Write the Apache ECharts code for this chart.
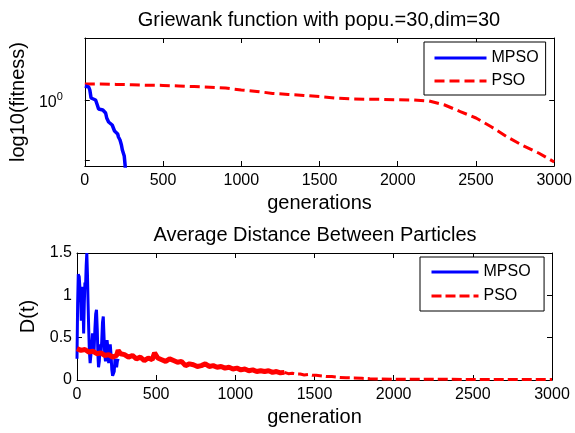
<!DOCTYPE html>
<html>
<head>
<meta charset="utf-8">
<script src="https://cdn.jsdelivr.net/npm/echarts@6/dist/echarts.min.js"></script>
<style>
html,body{margin:0;padding:0;background:#fff;}
#chart{width:575px;height:433px;}
</style>
</head>
<body>
<div id="chart"></div>
<script>
// ---- Top panel: log10(fitness) vs generations ----
const topTitle = 'Griewank function with popu.=30,dim=30';
const topMpsoGen = [0,6,25,32,40,44,69,76,82,88,115,125,133,140,152,175,183,190,196,210,215,225,234,240,246,252,258,262];
const topMpsoVal = [0.070,0.070,0.065,0.050,0.010,0.000,0.000,-0.010,-0.030,-0.045,-0.050,-0.055,-0.065,-0.090,-0.110,-0.125,-0.130,-0.155,-0.160,-0.170,-0.185,-0.200,-0.225,-0.250,-0.265,-0.280,-0.330,-0.400];
const topPsoGen = [0,100,200,300,400,500,600,700,800,900,1000,1100,1200,1300,1400,1500,1600,1700,1800,1900,2000,2100,2200,2300,2400,2500,2600,2700,2800,2900,3000];
const topPsoVal = [0.080,0.080,0.078,0.076,0.074,0.073,0.070,0.067,0.064,0.060,0.050,0.043,0.033,0.028,0.023,0.017,0.010,0.006,0.004,0.003,0.001,0.000,-0.005,-0.025,-0.058,-0.090,-0.135,-0.185,-0.228,-0.265,-0.310];

// ---- Bottom panel: D(t) vs generation ----
const botTitle = 'Average Distance Between Particles';
const botMpsoGen = [0,4,8,14,19,23,27,31,35,39,42,46,50,54,58,62,66,70,74,78,83,88,93,98,103,108,113,118,123,128,132,136,141,146,151,156,161,166,170,175,180,185,190,195,200,205,210,215,220,225,230,235,240,245,250,255,260];
const botMpsoVal = [0.25,0.9,1.25,1.22,1.2,0.95,0.7,0.95,1.1,0.8,0.55,0.9,1.15,1.1,1.35,1.5,1.25,0.9,0.6,0.35,0.2,0.18,0.4,0.55,0.45,0.35,0.6,0.78,0.83,0.6,0.3,0.15,0.22,0.42,0.3,0.45,0.68,0.75,0.55,0.3,0.22,0.35,0.47,0.38,0.2,0.3,0.42,0.3,0.12,0.05,0.04,0.1,0.25,0.2,0.15,0.22,0.25];
const botPsoGen = [0,25,50,75,100,125,150,175,200,225,250,260,275,300,325,350,375,400,425,450,475,490,510,535,560,585,610,635,660,685,710,735,760,785,810,835,860,885,910,935,960,985,1010,1035,1060,1085,1110,1135,1160,1185,1210,1235,1260,1285,1310,1335,1360,1385,1410,1435,1460,1485,1510,1535,1560,1585,1610,1635,1660,1700,1750,1800,1850,1900,2000,2200,2500,3000];
const botPsoVal = [0.37,0.35,0.36,0.33,0.34,0.31,0.32,0.29,0.30,0.27,0.29,0.35,0.31,0.30,0.27,0.29,0.25,0.27,0.23,0.26,0.24,0.32,0.26,0.24,0.22,0.25,0.23,0.21,0.22,0.17,0.19,0.18,0.16,0.17,0.19,0.16,0.17,0.15,0.16,0.14,0.15,0.13,0.14,0.12,0.13,0.11,0.12,0.10,0.11,0.10,0.11,0.09,0.10,0.085,0.09,0.075,0.08,0.07,0.07,0.06,0.065,0.055,0.055,0.05,0.045,0.04,0.04,0.035,0.03,0.028,0.025,0.02,0.015,0.012,0.01,0.008,0.007,0.006];
const solidUntil = 1310; // noisy part of PSO drawn solid (dense dashes look solid)

const xTicks = [0,500,1000,1500,2000,2500,3000];
const topYLabelTicks = [0];
const botYTicks = [0,0.5,1,1.5];

function zip(g, v) { return g.map((x, i) => [x, v[i]]); }
const botPsoAll = zip(botPsoGen, botPsoVal);
const botPsoSolid = botPsoAll.filter(p => p[0] <= solidUntil);
const botPsoDashed = botPsoAll.filter(p => p[0] >= solidUntil);

const FONT = 'Liberation Sans, Arial, Helvetica, sans-serif';
const BLUE = '#0000ff', RED = '#ff0000';

function xAx(grid, pos, withLabels, name, nameGap) {
  return {
    type: 'value', gridIndex: grid, position: pos, min: 0, max: 3000, interval: 500,
    axisLine: { show: true, onZero: false, lineStyle: { color: '#000', width: 1 } },
    axisTick: { show: true, inside: true, length: 5, customValues: xTicks, lineStyle: { color: '#000' } },
    axisLabel: { show: withLabels, customValues: xTicks, color: '#000', fontSize: 16, fontFamily: FONT, margin: 7,
      formatter: v => String(v) },
    splitLine: { show: false },
    name: withLabels ? name : '', nameLocation: 'middle', nameGap: nameGap,
    nameTextStyle: { color: '#000', fontSize: 20, fontFamily: FONT }
  };
}

const legendCommon = {
  orient: 'vertical', itemHeight: 14, borderColor: '#000', borderWidth: 1, backgroundColor: '#fff',
  textStyle: { fontSize: 16, color: '#000', fontFamily: FONT },
  itemStyle: { opacity: 0 }, lineStyle: { width: 3 }
};

const chart = echarts.init(document.getElementById('chart'), null, { renderer: 'canvas' });
chart.setOption({
  animation: false,
  backgroundColor: '#fff',
  title: [
    { text: topTitle, left: 319, top: 10, textAlign: 'center', padding: 0,
      textStyle: { fontSize: 20, fontWeight: 'normal', color: '#000', fontFamily: FONT } },
    { text: botTitle, left: 315, top: 225, textAlign: 'center', padding: 0,
      textStyle: { fontSize: 20, fontWeight: 'normal', color: '#000', fontFamily: FONT } }
  ],
  grid: [
    { left: 81, top: 38, width: 475, height: 128, containLabel: false },
    { left: 77, top: 253, width: 475, height: 127, containLabel: false }
  ],
  legend: [
    Object.assign({}, legendCommon, { data: ['MPSO', 'PSO'], left: 424, top: 42, itemWidth: 52, itemGap: 7,
      padding: [8, 7, 6, 9] }),
    Object.assign({}, legendCommon, { data: ['MPSO ', 'PSO '], left: 420, top: 257, itemWidth: 47, itemGap: 8,
      padding: [7, 9, 7, 10] })
  ],
  xAxis: [
    xAx(0, 'bottom', true, 'generations', 27),
    xAx(0, 'top', false, '', 0),
    xAx(1, 'bottom', true, 'generation', 27),
    xAx(1, 'top', false, '', 0)
  ],
  yAxis: [
    { type: 'value', gridIndex: 0, position: 'left', min: -0.33, max: 0.31,
      axisLine: { show: true, onZero: false, lineStyle: { color: '#000' } },
      axisTick: { show: true, inside: true, length: 5, customValues: [-0.301, 0], lineStyle: { color: '#000' } },
      axisLabel: { show: true, customValues: topYLabelTicks, margin: 22, color: '#000',
        formatter: () => '{a|10}{b|0}',
        rich: { a: { fontSize: 16, fontFamily: FONT, color: '#000', padding: [6, 0, 0, 0] },
                b: { fontSize: 11, fontFamily: FONT, color: '#000', padding: [0, 0, 6, 0] } } },
      splitLine: { show: false },
      name: 'log10(fitness)', nameLocation: 'middle', nameGap: 48,
      nameTextStyle: { color: '#000', fontSize: 20, fontFamily: FONT } },
    { type: 'value', gridIndex: 0, position: 'right', min: -0.33, max: 0.31,
      axisLine: { show: true, onZero: false, lineStyle: { color: '#000' } },
      axisTick: { show: true, inside: true, length: 5, customValues: [0], lineStyle: { color: '#000' } },
      axisLabel: { show: false }, splitLine: { show: false } },
    { type: 'value', gridIndex: 1, position: 'left', min: 0, max: 1.5, interval: 0.5,
      axisLine: { show: true, onZero: false, lineStyle: { color: '#000' } },
      axisTick: { show: true, inside: true, length: 5, lineStyle: { color: '#000' } },
      axisLabel: { show: true, customValues: botYTicks, margin: 5, color: '#000', fontSize: 16, fontFamily: FONT },
      splitLine: { show: false },
      name: 'D(t)', nameLocation: 'middle', nameGap: 35,
      nameTextStyle: { color: '#000', fontSize: 20, fontFamily: FONT } },
    { type: 'value', gridIndex: 1, position: 'right', min: 0, max: 1.5, interval: 0.5,
      axisLine: { show: true, onZero: false, lineStyle: { color: '#000' } },
      axisTick: { show: true, inside: true, length: 5, lineStyle: { color: '#000' } },
      axisLabel: { show: false }, splitLine: { show: false } }
  ],
  series: [
    { name: 'MPSO', type: 'line', xAxisIndex: 0, yAxisIndex: 0, data: zip(topMpsoGen, topMpsoVal),
      symbol: 'none', lineStyle: { color: BLUE, width: 3.5 }, itemStyle: { color: BLUE }, z: 3 },
    { name: 'PSO', type: 'line', xAxisIndex: 0, yAxisIndex: 0, data: zip(topPsoGen, topPsoVal),
      symbol: 'none', lineStyle: { color: RED, width: 3, type: [10, 5] }, itemStyle: { color: RED }, z: 2 },
    { name: 'MPSO ', type: 'line', xAxisIndex: 2, yAxisIndex: 2, data: zip(botMpsoGen, botMpsoVal),
      symbol: 'none', lineStyle: { color: BLUE, width: 3 }, itemStyle: { color: BLUE }, z: 2 },
    { name: 'PSO ', type: 'line', xAxisIndex: 2, yAxisIndex: 2, data: botPsoDashed,
      symbol: 'none', lineStyle: { color: RED, width: 3, type: [10, 4] }, itemStyle: { color: RED }, z: 3 },
    { name: 'PSO ', type: 'line', xAxisIndex: 2, yAxisIndex: 2, data: botPsoSolid,
      symbol: 'none', lineStyle: { color: RED, width: 5 }, itemStyle: { color: RED }, z: 3 }
  ]
});
</script>
</body>
</html>
